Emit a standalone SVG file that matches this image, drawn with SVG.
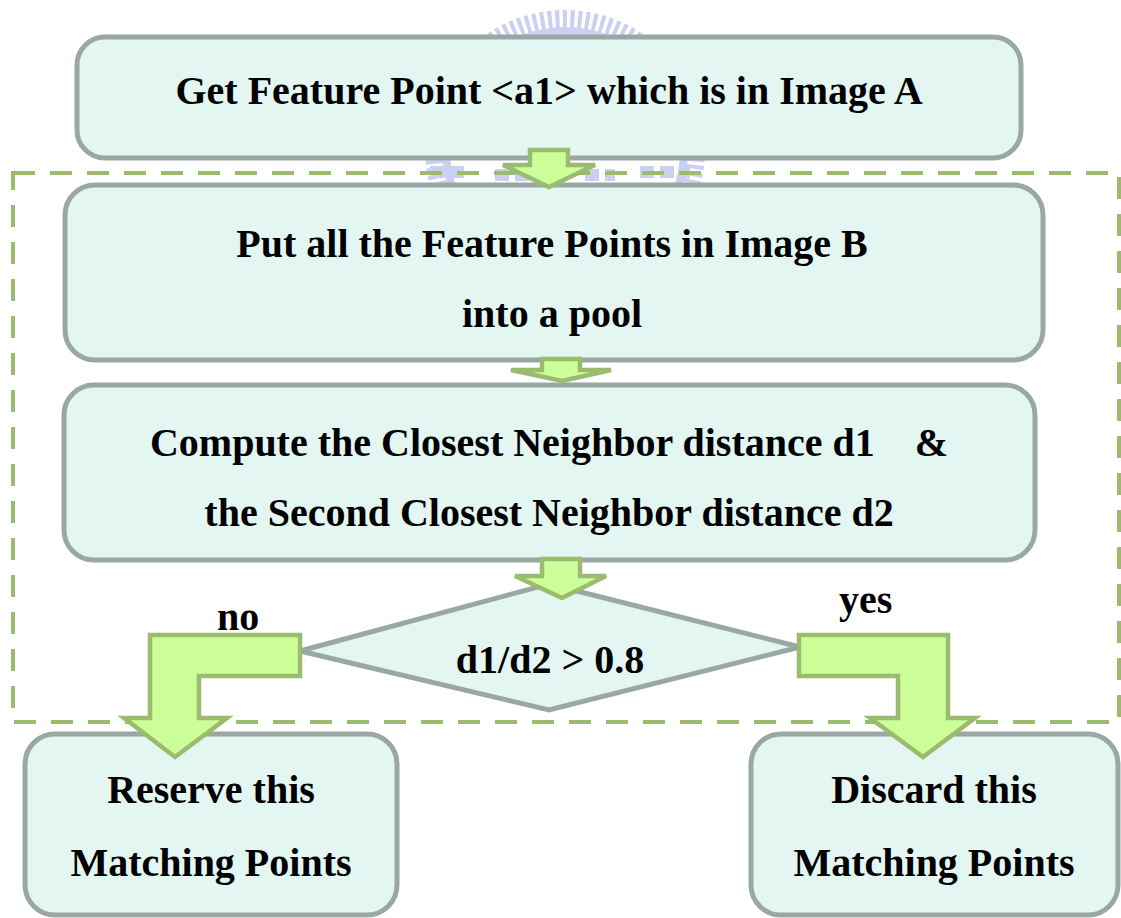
<svg xmlns="http://www.w3.org/2000/svg" width="1121" height="918" viewBox="0 0 1121 918">
  <defs>
    <style>
      .box { fill: #e3f6f2; stroke: #9aa8a3; stroke-width: 5; }
      .arrow { fill: #ccff99; stroke: #9bbb6f; stroke-width: 4.5; stroke-linejoin: miter; }
      .frame { fill: none; stroke: #9bbb6f; stroke-width: 4; stroke-dasharray: 22 15; }
      .t { font-family: "Liberation Serif", "Times New Roman", serif; font-weight: bold; font-size: 40px; fill: #000; text-anchor: middle; white-space: pre; }
      .lbl { font-family: "Liberation Serif", "Times New Roman", serif; font-weight: bold; font-size: 40px; fill: #000; }
    </style>
  </defs>

  <rect width="1121" height="918" fill="#ffffff"/>

  <!-- faint background emblem -->
  <g id="emblem" fill="none" stroke="#c3c8f0" opacity="0.85">
    <circle cx="565" cy="150" r="131" stroke-width="18" stroke-dasharray="4 3.5"/>
    <circle cx="565" cy="150" r="119" stroke-width="8"/>
    <path d="M430 172 H470 M495 175 H540 M585 175 H615 M640 172 H690" stroke-width="12" stroke-dasharray="14 6"/>
  </g>

  <!-- dashed loop frame -->
  <rect id="loop-frame" class="frame" x="13" y="173" width="1106" height="549"/>

  <g id="n-get-point">
    <rect class="box" x="77" y="37" width="944" height="121" rx="28"/>
    <text class="t" x="549" y="104">Get Feature Point &lt;a1&gt; which is in Image A</text>
  </g>

  <g id="n-pool">
    <rect class="box" x="65" y="185" width="978" height="175" rx="30"/>
    <text class="t" x="552" y="257">Put all the Feature Points in Image B</text>
    <text class="t" x="552" y="327">into a pool</text>
  </g>

  <g id="n-distance">
    <rect class="box" x="64" y="385" width="971" height="175" rx="30"/>
    <text class="t" x="549" y="456">Compute the Closest Neighbor distance d1    &amp;</text>
    <text class="t" x="549" y="526">the Second Closest Neighbor distance d2</text>
  </g>

  <g id="n-ratio">
    <polygon class="box" points="549,584 800,647 549,710 300,651"/>
    <text class="t" x="550" y="673">d1/d2 &gt; 0.8</text>
  </g>

  <g id="n-reserve">
    <rect class="box" x="25" y="734" width="372" height="181" rx="30"/>
    <text class="t" x="211" y="803">Reserve this</text>
    <text class="t" x="211" y="876">Matching Points</text>
  </g>

  <g id="n-discard">
    <rect class="box" x="751" y="734" width="367" height="181" rx="30"/>
    <text class="t" x="934" y="803">Discard this</text>
    <text class="t" x="934" y="876">Matching Points</text>
  </g>

  <g id="connectors">
    <polygon class="arrow" points="530,150 568,150 568,165 595,165 549,187 503,165 530,165"/>
    <polygon class="arrow" points="542,359 580,359 580,370 611,370 562,381 511,370 542,370"/>
    <polygon class="arrow" points="542,559 580,559 580,576 606,576 562,598 515,576 542,576"/>
    <polygon class="arrow" points="300,635 150,635 150,718 124,718 175,757 227,718 199,718 199,676 300,676"/>
    <polygon class="arrow" points="799,635 948,635 948,718 975,718 923,757 870,718 898,718 898,676 799,676"/>
    <text class="lbl" x="217" y="630">no</text>
    <text class="lbl" x="839" y="613">yes</text>
  </g>
</svg>
